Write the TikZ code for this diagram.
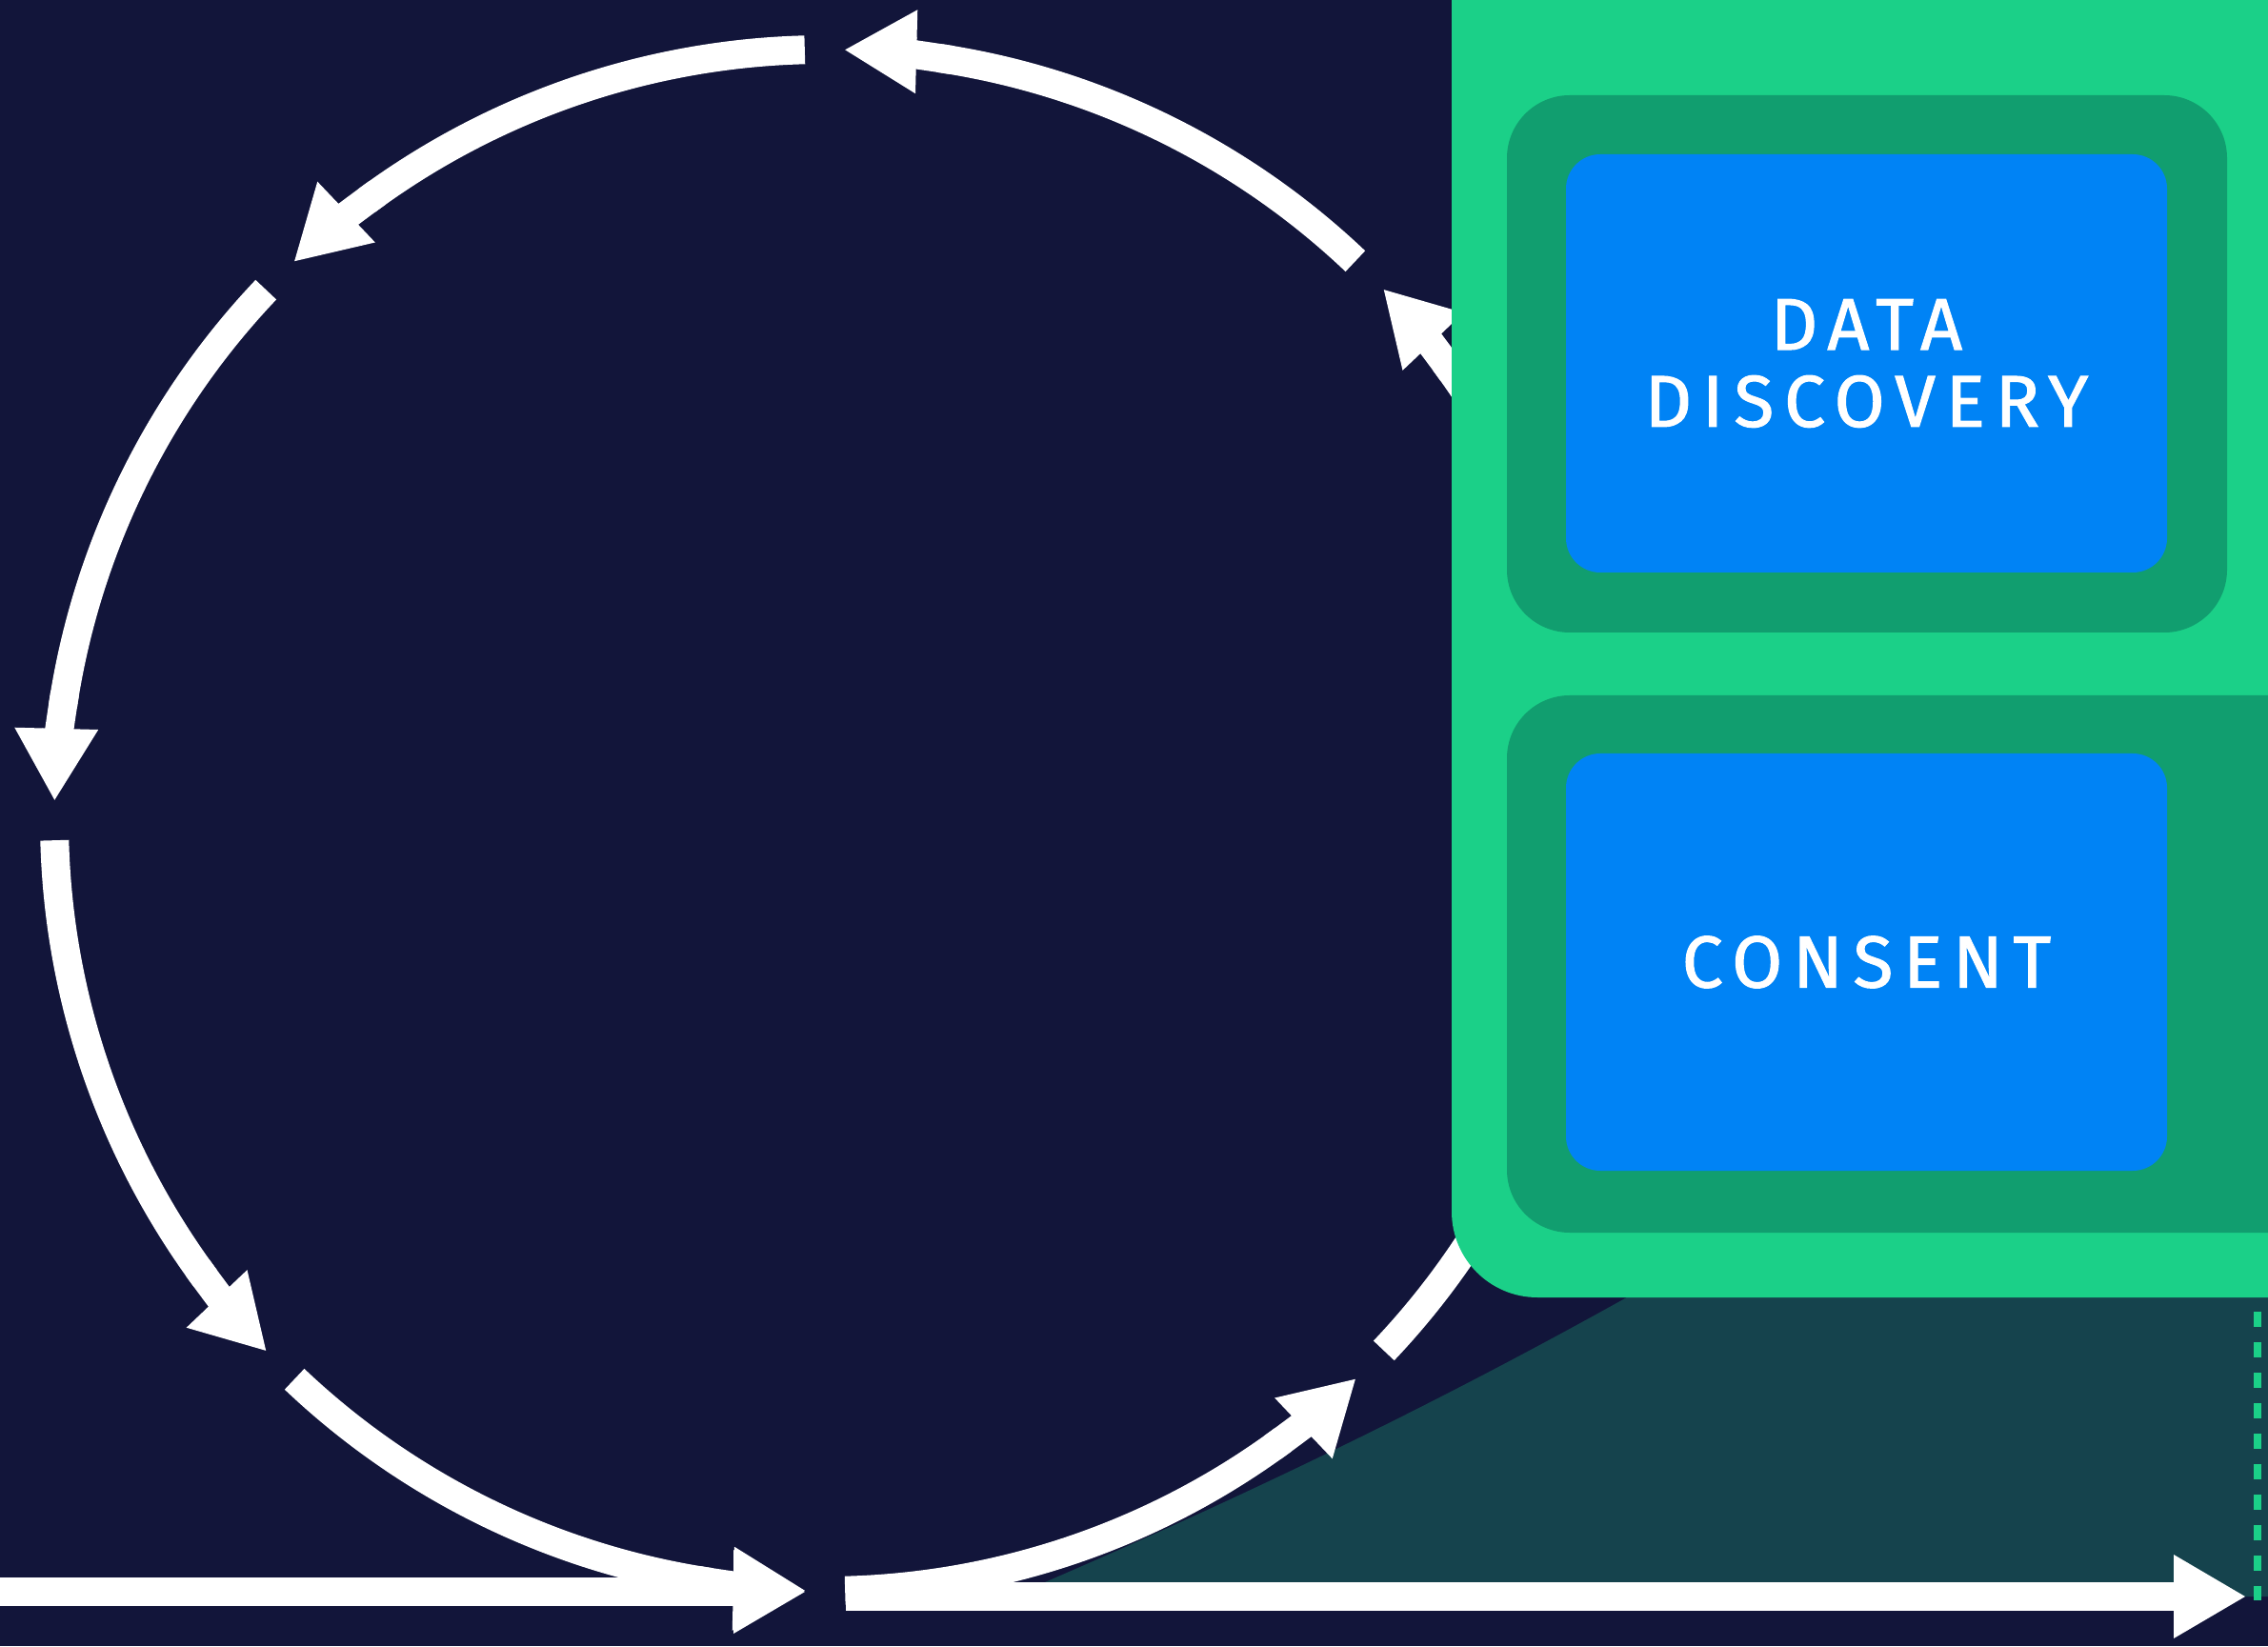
\documentclass[tikz,border=0pt]{standalone}
\usepackage{fontspec}
\newfontfamily\boxfont[LetterSpace=14, FakeBold=1.3]{Fira Sans}
\usetikzlibrary{arrows.meta}
\definecolor{night}{RGB}{18,21,58}
\definecolor{deepteal}{RGB}{21,67,77}
\definecolor{mint}{RGB}{27,208,136}
\definecolor{jade}{RGB}{17,158,111}
\definecolor{azure}{RGB}{0,131,245}

\begin{document}
\begin{tikzpicture}[
    track/.style={draw=white, line width=0.3cm},
    flow/.style={track, -{Triangle[length=0.75cm, width=0.88cm, line width=0pt]}},
    tray/.style={fill=jade, rounded corners=0.66cm, minimum height=5.64cm, inner sep=0pt},
    card/.style={fill=azure, rounded corners=0.36cm, minimum width=6.31cm, minimum height=4.39cm, inner sep=0pt,
        text=white, align=center, font=\boxfont\fontsize{21.9pt}{23pt}\selectfont},
    fence/.style={draw=mint, line width=0.08cm, dash pattern=on 0.16cm off 0.16cm}
]
    \useasboundingbox (0,0) rectangle (23.81,17.28);
    \clip (0,0) rectangle (23.81,17.28);
    \fill[night] (0,0) rectangle (23.81,17.28);

    \fill[deepteal] (10.62,0.52) .. controls (13.5,1.75) and (15.8,2.9) .. (18.2,4.3)
        -- (23.81,4.3) -- (23.81,0.52) -- cycle;

    \coordinate (hub) at (8.66,8.67);
    \foreach \a in {1.5,46.5,...,316.5} {
        \draw[track] ([shift={(\a:8.09)}]hub) arc[start angle=\a, end angle=\a+35, radius=8.09];
        \draw[flow] ([shift={(\a+34:8.09)}]hub) arc[start angle=\a+34, end angle=\a+42, radius=8.09];
    }

    \coordinate (inflow) at (0,0.57);
    \coordinate (inhead) at (8.45,0.57);
    \coordinate (outflow) at (8.88,0.52);
    \coordinate (outhead) at (23.57,0.52);
    \draw[flow] (inflow) -- (inhead);
    \draw[flow] (outflow) -- (outhead);

    \fill[mint, rounded corners=0.9cm] (15.24,18.5) -- (15.24,3.66) -- (25,3.66) -- (25,18.5) -- cycle;

    \node[tray, minimum width=7.56cm] (discoverytray) at (19.60,13.46) {};
    \node[card] (discovery) at (19.595,13.465) {DATA\\DISCOVERY};
    \node[tray, minimum width=8.68cm] (consenttray) at (20.16,7.16) {};
    \node[card, minimum height=4.38cm] (consent) at (19.595,7.18) {CONSENT};

    \coordinate (fencetop) at (23.70,3.51);
    \coordinate (fencefoot) at (23.70,0.48);
    \draw[fence] (fencetop) -- (fencefoot);
\end{tikzpicture}
\end{document}
